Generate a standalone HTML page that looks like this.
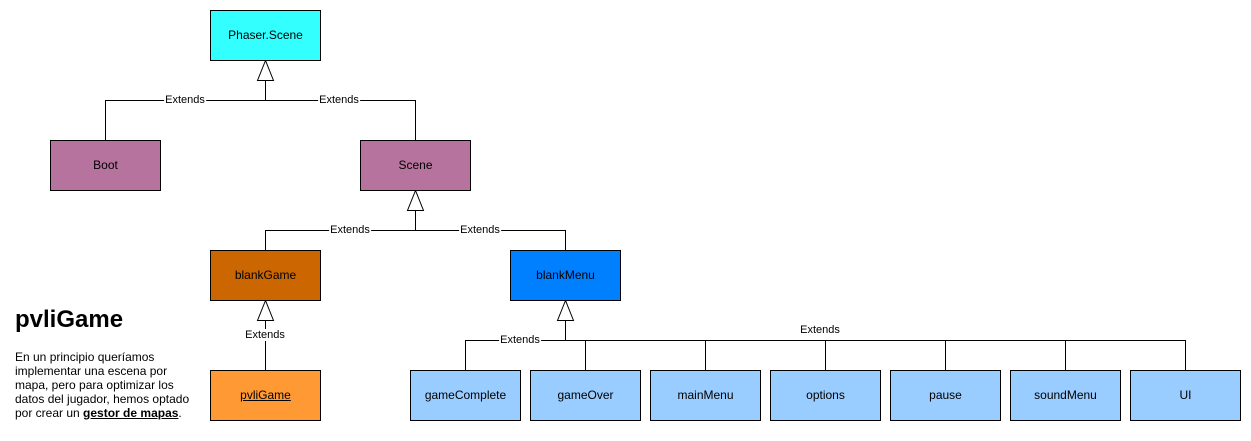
<!DOCTYPE html>
<html><head><style>
body{margin:0;background:#fff;width:1251px;height:441px;overflow:hidden;position:relative;font-family:"Liberation Sans",Arial,sans-serif}
.b{position:absolute;width:109px;height:49px;border:1px solid #000;display:flex;align-items:center;justify-content:center;font-size:12px;color:#000;box-sizing:content-box;padding-bottom:1px;height:48px}
.l{position:absolute;font-size:11px;background:#fff;transform:translate(-50%,-50%);line-height:12px;padding:0 1px}
</style></head><body>
<svg width="1251" height="441" style="position:absolute;left:0;top:0">
<g stroke="#000" stroke-width="1" fill="none">
<path d="M105.5 140V100.5H415.5V140M265.5 100V80"/>
<polygon points="265.5,60.5 257.5,80.5 273.5,80.5" fill="#fff"/>
<path d="M265.5 250V230.5H565.5V250M415.5 230V210"/>
<polygon points="415.5,190.5 407.5,210.5 423.5,210.5" fill="#fff"/>
<path d="M265.5 370V320"/>
<polygon points="265.5,300.5 257.5,320.5 273.5,320.5" fill="#fff"/>
<path d="M465.5 370V340.5H1185.5V370M565.5 340V320M585.5 340V370M705.5 340V370M825.5 340V370M945.5 340V370M1065.5 340V370"/>
<polygon points="565.5,300.5 557.5,320.5 573.5,320.5" fill="#fff"/>
</g></svg>
<div class="b" style="left:210px;top:10px;background:#33FFFF">Phaser.Scene</div>
<div class="b" style="left:50px;top:140px;background:#B5739D">Boot</div>
<div class="b" style="left:360px;top:140px;background:#B5739D">Scene</div>
<div class="b" style="left:210px;top:250px;background:#CC6600">blankGame</div>
<div class="b" style="left:510px;top:250px;background:#007FFF">blankMenu</div>
<div class="b" style="left:210px;top:370px;background:#FF9933;text-decoration:underline">pvliGame</div>
<div class="b" style="left:410px;top:370px;background:#99CCFF">gameComplete</div>
<div class="b" style="left:530px;top:370px;background:#99CCFF">gameOver</div>
<div class="b" style="left:650px;top:370px;background:#99CCFF">mainMenu</div>
<div class="b" style="left:770px;top:370px;background:#99CCFF">options</div>
<div class="b" style="left:890px;top:370px;background:#99CCFF">pause</div>
<div class="b" style="left:1010px;top:370px;background:#99CCFF">soundMenu</div>
<div class="b" style="left:1130px;top:370px;background:#99CCFF">UI</div>
<div class="l" style="left:185px;top:100px">Extends</div>
<div class="l" style="left:339px;top:100px">Extends</div>
<div class="l" style="left:350px;top:230px">Extends</div>
<div class="l" style="left:480px;top:230px">Extends</div>
<div class="l" style="left:265px;top:335px">Extends</div>
<div class="l" style="left:520px;top:340px">Extends</div>
<div class="l" style="left:820px;top:330px">Extends</div>
<div style="position:absolute;left:15px;top:306px;font-size:24px;font-weight:bold">pvliGame</div>
<div style="position:absolute;left:15px;top:350px;font-size:12px;line-height:14px;width:180px">En un principio queríamos implementar una escena por mapa, pero para optimizar los datos del jugador, hemos optado por crear un <b><u>gestor de mapas</u></b>.</div>
</body></html>
